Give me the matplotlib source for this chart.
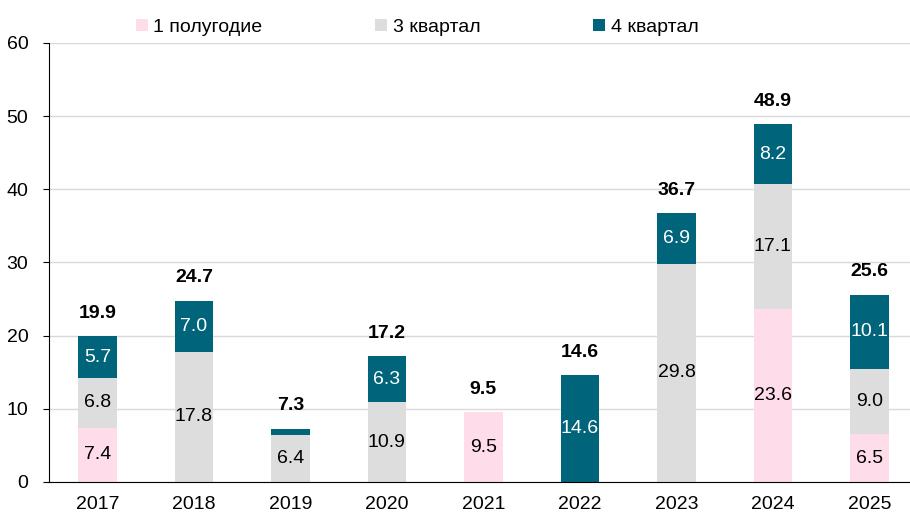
import matplotlib.pyplot as plt
import numpy as np

plt.rcParams['font.family'] = ['Liberation Sans', 'DejaVu Sans']

years = ['2017', '2018', '2019', '2020', '2021', '2022', '2023', '2024', '2025']
h1 = [7.4, 0, 0, 0, 9.5, 0, 0, 23.6, 6.5]
q3 = [6.8, 17.8, 6.4, 10.9, 0, 0, 29.8, 17.1, 9.0]
q4 = [5.7, 7.0, 0.9, 6.3, 0, 14.6, 6.9, 8.2, 10.1]
totals = [19.9, 24.7, 7.3, 17.2, 9.5, 14.6, 36.7, 48.9, 25.6]

c_pink = '#FFDCEA'
c_gray = '#DDDDDD'
c_teal = '#00647A'

fig = plt.figure(figsize=(9.1, 5.18), dpi=100)
ax = fig.add_axes([0.054, 0.0695, 0.946, 0.8475])

x = np.arange(len(years))
w = 0.4
h1 = np.array(h1)
q3 = np.array(q3)
q4 = np.array(q4)
ax.bar(x, h1, w, color=c_pink, label='1 полугодие', zorder=2)
ax.bar(x, q3, w, bottom=h1, color=c_gray, label='3 квартал', zorder=2)
ax.bar(x, q4, w, bottom=h1 + q3, color=c_teal, label='4 квартал', zorder=2)

fs = 14
for i in x:
    if h1[i] > 0:
        ax.text(i, h1[i] / 2, f'{h1[i]:.1f}', ha='center', va='center', fontsize=fs, color='black', zorder=3)
    if q3[i] > 0:
        ax.text(i, h1[i] + q3[i] / 2, f'{q3[i]:.1f}', ha='center', va='center', fontsize=fs, color='black', zorder=3)
    if q4[i] > 2:
        ax.text(i, h1[i] + q3[i] + q4[i] / 2, f'{q4[i]:.1f}', ha='center', va='center', fontsize=fs, color='white', zorder=3)
    ax.text(i, h1[i] + q3[i] + q4[i] + 2.0, f'{totals[i]:.1f}', ha='center', va='bottom',
            fontsize=fs, fontweight='bold', color='black', zorder=3)

ax.set_xlim(-0.5, 8.42)
ax.set_ylim(0, 60)
ax.set_yticks(range(0, 61, 10))
ax.set_xticks(x)
ax.set_xticklabels(years)
ax.tick_params(axis='x', length=0, labelsize=fs, pad=10)
ax.tick_params(axis='y', length=4, labelsize=fs, pad=11, direction='out')
ax.yaxis.grid(True, color='#D9D9D9', lw=1, zorder=0)
ax.set_axisbelow(True)
for s in ['top', 'right']:
    ax.spines[s].set_visible(False)
ax.spines['left'].set_color('black')
ax.spines['bottom'].set_color('black')

ax.legend(loc='lower left', bbox_to_anchor=(0.085, 0.985), ncol=3, frameon=False,
          fontsize=fs, handlelength=0.6, handleheight=0.6, handletextpad=0.3,
          columnspacing=5.8, borderaxespad=0.3)

fig.savefig('out.png', dpi=100)
